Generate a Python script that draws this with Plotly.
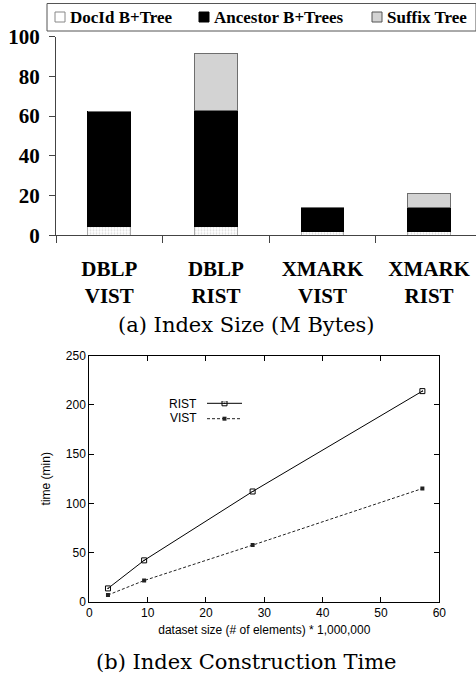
import plotly.graph_objects as go

# ---------------- data: (a) index size ----------------
categories = ["DBLP<br>VIST", "DBLP<br>RIST", "XMARK<br>VIST", "XMARK<br>RIST"]
docid_bt = [4.4, 4.4, 1.8, 1.8]
ancestor_bt = [57.7, 58.2, 12.1, 12.1]
suffix_tree = [0.0, 29.0, 0.0, 7.2]
size_ticks = [0, 20, 40, 60, 80, 100]

# ---------------- data: (b) construction time ----------------
dataset_size = [3.2, 9.4, 28.0, 57.1]
rist_time = [13.5, 42.0, 112.0, 214.0]
vist_time = [6.8, 21.5, 57.5, 115.0]

W, H = 476, 675
def px_x(v):
    return v / W
def px_y(v):
    return 1 - v / H

SERIF = "Liberation Serif"
SANS = "Liberation Sans"
CAPTION = "DejaVu Serif"

xpos = list(range(len(categories)))

fig = go.Figure()

fig.add_trace(go.Bar(
    x=xpos, y=docid_bt, width=0.4, name="DocId B+Tree",
    marker=dict(color="white", line=dict(color="#aaaaaa", width=1),
                pattern=dict(shape=".", size=3, solidity=0.3, fgcolor="#b8b8b8", bgcolor="white")),
    xaxis="x", yaxis="y", showlegend=False))
fig.add_trace(go.Bar(
    x=xpos, y=ancestor_bt, width=0.4, name="Ancestor B+Trees",
    marker=dict(color="black", line=dict(color="black", width=1)),
    xaxis="x", yaxis="y", showlegend=False))
fig.add_trace(go.Bar(
    x=xpos, y=suffix_tree, width=0.4, name="Suffix Tree",
    marker=dict(color="#d3d3d3", line=dict(color="#6e6e6e", width=1)),
    xaxis="x", yaxis="y", showlegend=False))

fig.add_trace(go.Scatter(
    x=dataset_size, y=rist_time, mode="lines+markers", name="RIST",
    line=dict(color="black", width=1),
    marker=dict(symbol="square-open-dot", size=5, color="black", line=dict(width=1)),
    xaxis="x2", yaxis="y2", showlegend=False))
fig.add_trace(go.Scatter(
    x=dataset_size, y=vist_time, mode="lines+markers", name="VIST",
    line=dict(color="#222222", width=1, dash="3px,2px"),
    marker=dict(symbol="square", size=4, color="#222222"),
    xaxis="x2", yaxis="y2", showlegend=False))

# legend keys for (b), drawn on a unit overlay axis
fig.add_trace(go.Scatter(
    x=[0.0, 0.5, 1.0], y=[1.0, 1.0, 1.0], mode="lines+markers",
    line=dict(color="black", width=1),
    marker=dict(symbol="square-open-dot", size=5, color="black", line=dict(width=1),
                opacity=[0, 1, 0]),
    xaxis="x3", yaxis="y3", showlegend=False, hoverinfo="skip"))
fig.add_trace(go.Scatter(
    x=[0.0, 0.5, 1.0], y=[0.0, 0.0, 0.0], mode="lines+markers",
    line=dict(color="#222222", width=1, dash="3px,2px"),
    marker=dict(symbol="square", size=4, color="#222222", opacity=[0, 1, 0]),
    xaxis="x3", yaxis="y3", showlegend=False, hoverinfo="skip"))

shapes = []
annotations = []

# legend box for (a)
shapes.append(dict(type="rect", xref="paper", yref="paper",
                   x0=px_x(47), x1=px_x(476), y0=px_y(31), y1=px_y(3.5),
                   line=dict(color="#555555", width=1), fillcolor="white"))
leg_items = [
    ("DocId B+Tree", 55, "white", "#888888"),
    ("Ancestor B+Trees", 199, "black", "black"),
    ("Suffix Tree", 372, "#d3d3d3", "#555555"),
]
for txt, x0, fill, edge in leg_items:
    shapes.append(dict(type="rect", xref="paper", yref="paper",
                       x0=px_x(x0), x1=px_x(x0 + 10), y0=px_y(22), y1=px_y(12),
                       line=dict(color=edge, width=1), fillcolor=fill))
    annotations.append(dict(text="<b>%s</b>" % txt, xref="paper", yref="paper",
                            x=px_x(x0 + 13), y=px_y(17), xanchor="left", yanchor="middle",
                            showarrow=False, font=dict(family=SERIF, size=17, color="black")))

# legend labels for (b)
annotations.append(dict(text="RIST", xref="paper", yref="paper", x=px_x(199), y=px_y(404),
                        xanchor="right", yanchor="middle", showarrow=False,
                        font=dict(family=SANS, size=12, color="black")))
annotations.append(dict(text="VIST", xref="paper", yref="paper", x=px_x(199), y=px_y(418),
                        xanchor="right", yanchor="middle", showarrow=False,
                        font=dict(family=SANS, size=12, color="black")))

# captions
annotations.append(dict(text="(a) Index Size (M Bytes)", xref="paper", yref="paper",
                        x=px_x(246), y=px_y(325), xanchor="center", yanchor="middle",
                        showarrow=False, font=dict(family=CAPTION, size=21, color="black")))
annotations.append(dict(text="(b) Index Construction Time", xref="paper", yref="paper",
                        x=px_x(246), y=px_y(662), xanchor="center", yanchor="middle",
                        showarrow=False, font=dict(family=CAPTION, size=21, color="black")))

fig.update_layout(
    width=W, height=H,
    margin=dict(l=0, r=0, t=0, b=0, autoexpand=False),
    paper_bgcolor="white", plot_bgcolor="white",
    barmode="stack",
    shapes=shapes, annotations=annotations,
    xaxis=dict(domain=[px_x(56), 1.0], range=[-0.5, 3.44], anchor="y", automargin=False,
               tickvals=xpos, ticktext=["<b>%s</b>" % c for c in categories],
               ticks="", showline=True, linecolor="#444444", linewidth=1,
               showgrid=False, zeroline=False, ticklabelstandoff=14,
               tickfont=dict(family=SERIF, size=21, color="black"),
               minor=dict(tickvals=[-0.5, 0.5, 1.5, 2.5], ticks="outside", ticklen=7,
                          tickcolor="#444444", tickwidth=1, showgrid=False)),
    yaxis=dict(domain=[px_y(235.3), px_y(36.7)], range=[0, 100], anchor="x", automargin=False,
               tickvals=size_ticks, ticktext=["<b>%d</b>" % v for v in size_ticks],
               ticks="outside", ticklen=6, tickcolor="#444444",
               showline=True, linecolor="#444444", linewidth=1,
               showgrid=False, zeroline=False, ticklabelstandoff=5,
               tickfont=dict(family=SERIF, size=21, color="black")),
    xaxis2=dict(domain=[px_x(89.3), px_x(439.3)], range=[0, 60], anchor="y2", automargin=False,
                dtick=10, ticks="inside", ticklen=5, tickcolor="black",
                showline=True, linecolor="black", linewidth=1, mirror="ticks",
                showgrid=False, zeroline=False,
                tickfont=dict(family=SANS, size=12, color="black"),
                title=dict(text="dataset size (# of elements) * 1,000,000", standoff=6,
                           font=dict(family=SANS, size=12, color="black"))),
    yaxis2=dict(domain=[px_y(601.7), px_y(355.7)], range=[0, 250], anchor="x2", automargin=False,
                dtick=50, ticks="inside", ticklen=5, tickcolor="black",
                showline=True, linecolor="black", linewidth=1, mirror="ticks",
                showgrid=False, zeroline=False,
                tickfont=dict(family=SANS, size=12, color="black"),
                title=dict(text="time (min)", standoff=12,
                           font=dict(family=SANS, size=12, color="black"))),
    xaxis3=dict(domain=[px_x(207), px_x(242)], range=[0, 1], anchor="y3", automargin=False,
                visible=False, fixedrange=True),
    yaxis3=dict(domain=[px_y(421), px_y(401)], range=[-0.15, 1.15], anchor="x3", automargin=False,
                visible=False, fixedrange=True),
)

fig.write_html("out.html", config={"displayModeBar": False},
               post_script="document.body.style.margin='0';document.body.style.padding='0';")
